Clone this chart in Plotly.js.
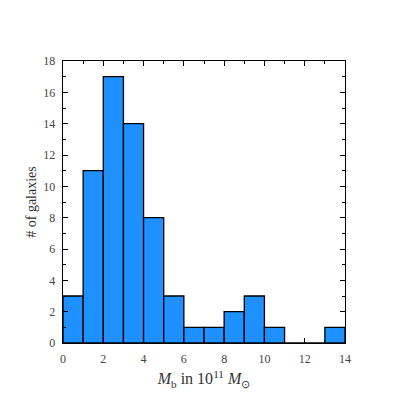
<!DOCTYPE html>
<html><head><meta charset="utf-8">
<script src="https://cdn.plot.ly/plotly-3.0.1.min.js"></script>
<style>html,body{margin:0;padding:0;background:#fff}</style>
</head><body>
<div id="chart" style="width:407px;height:407px"></div>
<script>
const binStarts = [0,1,2,3,4,5,6,7,8,9,10,11,12,13];
const counts = [3,11,17,14,8,3,1,1,2,3,1,0,0,1];
const xTitle = '<i>M</i><sub>b</sub> in 10<sup>11</sup> <i>M</i><sub>⊙</sub>';
const yTitle = '# of galaxies';

const font = 'Liberation Serif';
const trace = {
  type: 'bar',
  x: binStarts.map(b => b + 0.5),
  y: counts,
  width: binStarts.map(() => 1),
  marker: {color: '#1E90FF', line: {color: '#000', width: 1.3}},
  hoverinfo: 'skip'
};
const axisCommon = {
  showgrid: false, zeroline: false, showline: true, linecolor: '#000', linewidth: 1.3,
  mirror: 'ticks', ticks: 'inside', ticklen: 5, tickwidth: 1, tickcolor: '#000',
  ticklabelstandoff: 4,
  tickfont: {family: font, size: 12, color: '#444'},
  minor: {dtick: 1, ticks: 'inside', ticklen: 3, tickwidth: 1, tickcolor: '#000', showgrid: false}
};
const layout = {
  width: 407, height: 407,
  margin: {l: 63, r: 62, t: 61, b: 64},
  paper_bgcolor: '#fff', plot_bgcolor: '#fff',
  showlegend: false,
  font: {family: font},
  xaxis: Object.assign({}, axisCommon, {range: [0, 14], dtick: 2, tick0: 0,
    title: {text: xTitle, font: {family: font, size: 16, color: '#333'}, standoff: 8}}),
  yaxis: Object.assign({}, axisCommon, {range: [0, 18], dtick: 2, tick0: 0,
    title: {text: yTitle, font: {family: font, size: 14, color: '#333'}, standoff: 3}}),
  bargap: 0
};
Plotly.newPlot('chart', [trace], layout, {staticPlot: true, displayModeBar: false});
</script>
</body></html>
